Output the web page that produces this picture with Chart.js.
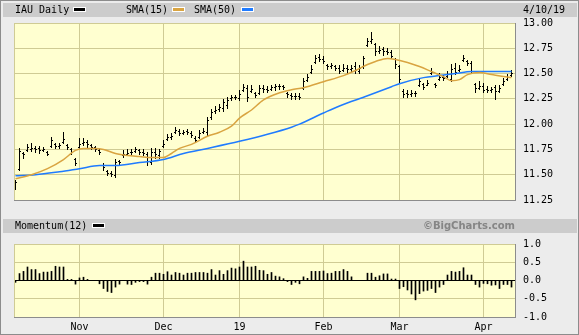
<!DOCTYPE html>
<html>
<head>
<meta charset="utf-8">
<script src="https://cdn.jsdelivr.net/npm/chart.js@4.4.1/dist/chart.umd.min.js"></script>
<style>
  body { margin: 0; background: #fff; }
  #frame { position: relative; width: 579px; height: 335px; background: #ececec; overflow: hidden;
           font-family: "DejaVu Sans Mono", monospace; font-size: 10px; color: #000; }
  #frame canvas { position: absolute; left: 0; }
  .band { position: absolute; left: 3px; width: 574px; height: 14px; background: #cccccc; }
  .lbl { position: absolute; line-height: 12px; white-space: nowrap; }
  .sw { position: absolute; width: 11px; height: 3px; border: 1px solid #fff; }
  #edge { position: absolute; left: 0; top: 0; width: 579px; height: 335px; box-sizing: border-box;
          border: 1px solid #8c8c8c; pointer-events: none; }
</style>
</head>
<body>
<div id="frame">
  <div class="band" style="top:3px"></div>
  <div class="band" style="top:219px"></div>
  <canvas id="price" width="579" height="214" style="top:0"></canvas>
  <canvas id="mom" width="579" height="105" style="top:230px"></canvas>

  <span class="lbl" style="left:15px;top:4px">IAU Daily</span>
  <span class="sw" style="left:73px;top:7px;background:#000"></span>
  <span class="lbl" style="left:126px;top:4px">SMA(15)</span>
  <span class="sw" style="left:172px;top:7px;background:#d9a441"></span>
  <span class="lbl" style="left:194px;top:4px">SMA(50)</span>
  <span class="sw" style="left:241px;top:7px;background:#1f7bff"></span>
  <span class="lbl" style="left:523px;top:4px">4/10/19</span>

  <span class="lbl" style="left:15px;top:220px">Momentum(12)</span>
  <span class="sw" style="left:92px;top:223px;background:#000"></span>
  <span class="lbl" style="right:64px;top:220px;font-family:'DejaVu Sans',sans-serif;font-weight:bold;color:#858585">©BigCharts.com</span>
  <div id="edge"></div>
</div>
<script>
// trading days, 10/10/18 .. 4/10/19
const dates = [
  '10/10','10/11','10/12','10/15','10/16','10/17','10/18','10/19','10/22','10/23','10/24','10/25','10/26','10/29','10/30','10/31',
  '11/1','11/2','11/5','11/6','11/7','11/8','11/9','11/12','11/13','11/14','11/15','11/16','11/19','11/20','11/21','11/23','11/26','11/27','11/28','11/29','11/30',
  '12/3','12/4','12/6','12/7','12/10','12/11','12/12','12/13','12/14','12/17','12/18','12/19','12/20','12/21','12/24','12/26','12/27','12/28','12/31',
  '1/2','1/3','1/4','1/7','1/8','1/9','1/10','1/11','1/14','1/15','1/16','1/17','1/18','1/22','1/23','1/24','1/25','1/28','1/29','1/30','1/31',
  '2/1','2/4','2/5','2/6','2/7','2/8','2/11','2/12','2/13','2/14','2/15','2/19','2/20','2/21','2/22','2/25','2/26','2/27','2/28',
  '3/1','3/4','3/5','3/6','3/7','3/8','3/11','3/12','3/13','3/14','3/15','3/18','3/19','3/20','3/21','3/22','3/25','3/26','3/27','3/28','3/29',
  '4/1','4/2','4/3','4/4','4/5','4/8','4/9','4/10'
];
const monthTicks = ['Nov', 'Dec', '19', 'Feb', 'Mar', 'Apr'];
const priceTicks = [11.25, 11.50, 11.75, 12.00, 12.25, 12.50, 12.75, 13.00];
const momTicks = [-1.0, -0.5, 0.0, 0.5, 1.0];

const opens = [
  11.38, 11.56, 11.71, 11.74, 11.75, 11.76, 11.76, 11.74, 11.72, 11.78,
  11.80, 11.78, 11.82, 11.79, 11.75, 11.66, 11.77, 11.81, 11.82, 11.79,
  11.77, 11.74, 11.60, 11.54, 11.52, 11.50, 11.64, 11.69, 11.70, 11.72,
  11.73, 11.74, 11.72, 11.70, 11.63, 11.72, 11.69, 11.78, 11.85, 11.87,
  11.92, 11.93, 11.91, 11.93, 11.91, 11.86, 11.87, 11.92, 11.92, 12.07,
  12.13, 12.15, 12.16, 12.19, 12.26, 12.27, 12.26, 12.34, 12.36, 12.33,
  12.31, 12.31, 12.36, 12.35, 12.35, 12.37, 12.38, 12.38, 12.31, 12.29,
  12.28, 12.28, 12.36, 12.44, 12.52, 12.61, 12.66, 12.64, 12.58, 12.57,
  12.57, 12.56, 12.54, 12.56, 12.55, 12.57, 12.53, 12.57, 12.78, 12.82,
  12.79, 12.72, 12.74, 12.72, 12.71, 12.64, 12.57, 12.33, 12.31, 12.30,
  12.31, 12.39, 12.40, 12.39, 12.51, 12.40, 12.45, 12.47, 12.48, 12.45,
  12.56, 12.54, 12.63, 12.62, 12.60, 12.40, 12.36, 12.38, 12.35, 12.34,
  12.37, 12.33, 12.40, 12.45, 12.49
];
const highs = [
  11.45, 11.76, 11.72, 11.80, 11.81, 11.78, 11.78, 11.77, 11.73, 11.87,
  11.81, 11.81, 11.92, 11.80, 11.76, 11.67, 11.86, 11.86, 11.84, 11.80,
  11.78, 11.76, 11.62, 11.55, 11.54, 11.66, 11.65, 11.74, 11.75, 11.75,
  11.77, 11.75, 11.75, 11.72, 11.76, 11.76, 11.75, 11.84, 11.90, 11.91,
  11.97, 11.95, 11.94, 11.95, 11.93, 11.88, 11.94, 11.96, 12.07, 12.15,
  12.18, 12.20, 12.25, 12.27, 12.29, 12.29, 12.34, 12.40, 12.39, 12.39,
  12.32, 12.39, 12.39, 12.38, 12.39, 12.40, 12.40, 12.39, 12.32, 12.31,
  12.31, 12.31, 12.46, 12.50, 12.58, 12.68, 12.69, 12.67, 12.59, 12.60,
  12.58, 12.58, 12.59, 12.58, 12.58, 12.61, 12.58, 12.67, 12.85, 12.91,
  12.80, 12.77, 12.76, 12.75, 12.73, 12.65, 12.58, 12.35, 12.34, 12.34,
  12.33, 12.46, 12.41, 12.44, 12.56, 12.41, 12.51, 12.49, 12.53, 12.59,
  12.60, 12.58, 12.68, 12.63, 12.62, 12.41, 12.43, 12.41, 12.38, 12.37,
  12.39, 12.39, 12.46, 12.50, 12.54
];
const lows = [
  11.36, 11.55, 11.67, 11.73, 11.73, 11.72, 11.71, 11.73, 11.69, 11.77,
  11.76, 11.76, 11.81, 11.75, 11.70, 11.60, 11.76, 11.79, 11.77, 11.75,
  11.73, 11.70, 11.55, 11.50, 11.49, 11.48, 11.60, 11.68, 11.69, 11.70,
  11.72, 11.70, 11.69, 11.60, 11.61, 11.67, 11.67, 11.77, 11.84, 11.85,
  11.91, 11.89, 11.90, 11.90, 11.87, 11.82, 11.86, 11.91, 11.89, 12.05,
  12.11, 12.13, 12.13, 12.16, 12.24, 12.25, 12.24, 12.33, 12.23, 12.32,
  12.27, 12.30, 12.32, 12.32, 12.34, 12.34, 12.35, 12.35, 12.27, 12.25,
  12.25, 12.25, 12.35, 12.43, 12.51, 12.60, 12.62, 12.60, 12.55, 12.56,
  12.54, 12.51, 12.53, 12.51, 12.53, 12.51, 12.51, 12.56, 12.77, 12.80,
  12.68, 12.70, 12.68, 12.69, 12.65, 12.56, 12.41, 12.27, 12.27, 12.28,
  12.28, 12.38, 12.35, 12.39, 12.50, 12.37, 12.44, 12.44, 12.47, 12.43,
  12.50, 12.53, 12.62, 12.58, 12.51, 12.32, 12.35, 12.32, 12.32, 12.32,
  12.25, 12.32, 12.39, 12.44, 12.48
];
const closes = [
  11.43, 11.73, 11.70, 11.77, 11.76, 11.75, 11.74, 11.75, 11.70, 11.84,
  11.78, 11.79, 11.85, 11.77, 11.72, 11.62, 11.80, 11.82, 11.80, 11.77,
  11.75, 11.72, 11.58, 11.52, 11.51, 11.63, 11.63, 11.70, 11.71, 11.72,
  11.75, 11.72, 11.71, 11.64, 11.72, 11.70, 11.73, 11.80, 11.87, 11.88,
  11.94, 11.91, 11.92, 11.92, 11.89, 11.84, 11.91, 11.93, 12.04, 12.12,
  12.14, 12.17, 12.22, 12.24, 12.27, 12.27, 12.30, 12.37, 12.27, 12.35,
  12.29, 12.36, 12.35, 12.34, 12.37, 12.38, 12.38, 12.37, 12.30, 12.28,
  12.28, 12.27, 12.43, 12.47, 12.55, 12.65, 12.64, 12.62, 12.57, 12.58,
  12.56, 12.53, 12.56, 12.55, 12.56, 12.54, 12.56, 12.65, 12.82, 12.84,
  12.72, 12.73, 12.72, 12.71, 12.67, 12.59, 12.45, 12.30, 12.30, 12.31,
  12.31, 12.43, 12.37, 12.41, 12.52, 12.39, 12.47, 12.46, 12.50, 12.55,
  12.52, 12.55, 12.65, 12.60, 12.53, 12.36, 12.38, 12.34, 12.34, 12.35,
  12.33, 12.36, 12.43, 12.47, 12.51
];

// moving averages at these bar positions
const sma15At = [0, 4, 8, 12, 15, 17, 20, 22, 25, 28, 31, 34, 37, 39, 41, 44, 48, 51, 54, 56, 59, 62, 66, 69, 72, 77, 82, 85, 88, 90, 93, 95, 98, 101, 104, 107, 109, 111, 113, 116, 119, 122, 124];
const sma15 = [11.46, 11.50, 11.56, 11.65, 11.74, 11.76, 11.76, 11.75, 11.71, 11.69, 11.68, 11.67, 11.67, 11.71, 11.76, 11.80, 11.88, 11.92, 11.98, 12.06, 12.14, 12.24, 12.31, 12.34, 12.36, 12.42, 12.48, 12.53, 12.59, 12.62, 12.65, 12.64, 12.61, 12.57, 12.52, 12.47, 12.43, 12.44, 12.49, 12.51, 12.49, 12.47, 12.46];
const sma50At = [0, 5, 11, 16, 21, 25, 31, 37, 42, 48, 56, 63, 69, 71, 77, 81, 88, 94, 96, 102, 106, 110, 114, 119, 124];
const sma50 = [11.49, 11.50, 11.53, 11.56, 11.59, 11.59, 11.62, 11.65, 11.71, 11.76, 11.83, 11.90, 11.97, 12.00, 12.11, 12.18, 12.28, 12.37, 12.40, 12.46, 12.48, 12.50, 12.52, 12.52, 12.52];

const momentum = [
  -0.05, 0.19, 0.25, 0.37, 0.30, 0.30, 0.19, 0.23, 0.23, 0.25,
  0.39, 0.37, 0.37, 0.03, 0.03, -0.10, 0.07, 0.09, 0.03, 0.00,
  0.00, -0.09, -0.22, -0.30, -0.33, -0.18, -0.10, 0.00, -0.10, -0.11,
  -0.05, -0.03, -0.03, -0.10, 0.09, 0.20, 0.20, 0.17, 0.24, 0.15,
  0.22, 0.20, 0.15, 0.20, 0.20, 0.22, 0.22, 0.22, 0.20, 0.30,
  0.15, 0.27, 0.17, 0.27, 0.34, 0.32, 0.37, 0.53, 0.37, 0.37,
  0.39, 0.28, 0.27, 0.17, 0.22, 0.12, 0.10, 0.05, -0.03, -0.11,
  -0.05, -0.09, 0.10, 0.06, 0.25, 0.25, 0.25, 0.26, 0.19, 0.20,
  0.25, 0.25, 0.30, 0.25, 0.10, 0.00, 0.00, 0.00, 0.20, 0.20,
  0.09, 0.13, 0.18, 0.18, 0.04, 0.04, -0.22, -0.17, -0.26, -0.37,
  -0.53, -0.36, -0.29, -0.27, -0.22, -0.33, -0.18, -0.11, 0.15, 0.25,
  0.23, 0.25, 0.35, 0.15, 0.15, -0.11, -0.18, -0.08, -0.09, -0.13,
  -0.12, -0.22, -0.11, -0.11, -0.18
];

const GRID = '#cfcb94';
const PANEL = '#ffffd0';
const GOLD = '#d9a441';
const BLUE = '#1f7bff';
const FONT = { family: '"DejaVu Sans Mono", monospace', size: 10 };

// first bar of each month
const monthIdx = [];
dates.forEach((d, i) => {
  if (i > 0 && d.split('/')[0] !== dates[i - 1].split('/')[0]) monthIdx.push(i);
});

const xMin = -0.375;
const xMax = dates.length - 0.125;

const panelFrame = {
  id: 'panelFrame',
  beforeDraw(chart) {
    const { ctx, chartArea: a } = chart;
    ctx.save();
    ctx.fillStyle = PANEL;
    ctx.fillRect(a.left, a.top, a.right - a.left, a.bottom - a.top);
    ctx.restore();
  },
  afterDraw(chart) {
    const { ctx, chartArea: a } = chart;
    ctx.save();
    ctx.lineWidth = 1;
    ctx.strokeStyle = GRID;
    ctx.beginPath();
    ctx.moveTo(a.left + 0.5, a.top);
    ctx.lineTo(a.left + 0.5, a.bottom);
    ctx.stroke();
    ctx.strokeStyle = '#8c8c8c';
    ctx.beginPath();
    ctx.moveTo(a.left, a.bottom + 0.5);
    ctx.lineTo(a.right + 1, a.bottom + 0.5);
    ctx.moveTo(a.right + 0.5, a.top);
    ctx.lineTo(a.right + 0.5, a.bottom + 1);
    ctx.stroke();
    ctx.restore();
  }
};

const ohlcBars = {
  id: 'ohlcBars',
  beforeDatasetsDraw(chart) {
    const { ctx, scales: { x, y } } = chart;
    ctx.save();
    ctx.fillStyle = '#000';
    for (let i = 0; i < closes.length; i++) {
      const px = Math.round(x.getPixelForValue(i) - 0.5);
      const yh = Math.round(y.getPixelForValue(highs[i]));
      const yl = Math.round(y.getPixelForValue(lows[i]));
      ctx.fillRect(px, yh, 1, Math.max(1, yl - yh + 1));
      ctx.fillRect(px - 1, Math.round(y.getPixelForValue(opens[i])), 1, 1);
      ctx.fillRect(px + 1, Math.round(y.getPixelForValue(closes[i])), 1, 1);
    }
    ctx.restore();
  }
};

function monthAxis(showLabels) {
  return {
    type: 'linear',
    min: xMin,
    max: xMax,
    offset: false,
    afterBuildTicks: s => { s.ticks = monthIdx.map(v => ({ value: v })); },
    afterFit: s => { s.height = showLabels ? 18 : 0; },
    ticks: {
      display: showLabels,
      autoSkip: false,
      maxRotation: 0,
      font: FONT,
      color: '#000',
      padding: 4,
      callback: v => monthTicks[monthIdx.indexOf(v)]
    },
    grid: { color: GRID, drawTicks: false, offset: false },
    border: { display: false }
  };
}

new Chart(document.getElementById('price'), {
  type: 'line',
  data: {
    datasets: [
      {
        label: 'SMA(15)',
        data: sma15At.map((k, i) => ({ x: k, y: sma15[i] })),
        borderColor: GOLD,
        borderWidth: 1.5,
        pointRadius: 0,
        cubicInterpolationMode: 'monotone'
      },
      {
        label: 'SMA(50)',
        data: sma50At.map((k, i) => ({ x: k, y: sma50[i] })),
        borderColor: BLUE,
        borderWidth: 1.5,
        pointRadius: 0,
        cubicInterpolationMode: 'monotone'
      }
    ]
  },
  options: {
    responsive: false,
    animation: false,
    events: [],
    layout: { padding: { left: 14, top: 23, right: 0, bottom: 7 } },
    plugins: { legend: { display: false }, tooltip: { enabled: false } },
    scales: {
      x: monthAxis(false),
      y: {
        position: 'right',
        min: 11.25,
        max: 13,
        afterBuildTicks: s => { s.ticks = priceTicks.map(v => ({ value: v })); },
        afterFit: s => { s.width = 64; },
        ticks: { font: FONT, color: '#000', padding: 8, callback: v => v.toFixed(2) },
        grid: { color: GRID, drawTicks: false },
        border: { display: false }
      }
    }
  },
  plugins: [panelFrame, ohlcBars]
});

new Chart(document.getElementById('mom'), {
  type: 'bar',
  data: {
    datasets: [{
      label: 'Momentum(12)',
      data: momentum.map((m, i) => ({ x: i, y: m })),
      backgroundColor: '#000',
      borderWidth: 0,
      barThickness: 1
    }]
  },
  options: {
    responsive: false,
    animation: false,
    events: [],
    layout: { padding: { left: 14, top: 10, right: 0, bottom: 0 } },
    plugins: { legend: { display: false }, tooltip: { enabled: false } },
    scales: {
      x: monthAxis(true),
      y: {
        position: 'right',
        min: -1,
        max: 1,
        afterBuildTicks: s => { s.ticks = momTicks.map(v => ({ value: v })); },
        afterFit: s => { s.width = 64; },
        ticks: { font: FONT, color: '#000', padding: 8, callback: v => v.toFixed(1) },
        grid: { color: c => (c.tick && c.tick.value === 0 ? '#000' : GRID), drawTicks: false },
        border: { display: false }
      }
    }
  },
  plugins: [panelFrame]
});
</script>
</body>
</html>
